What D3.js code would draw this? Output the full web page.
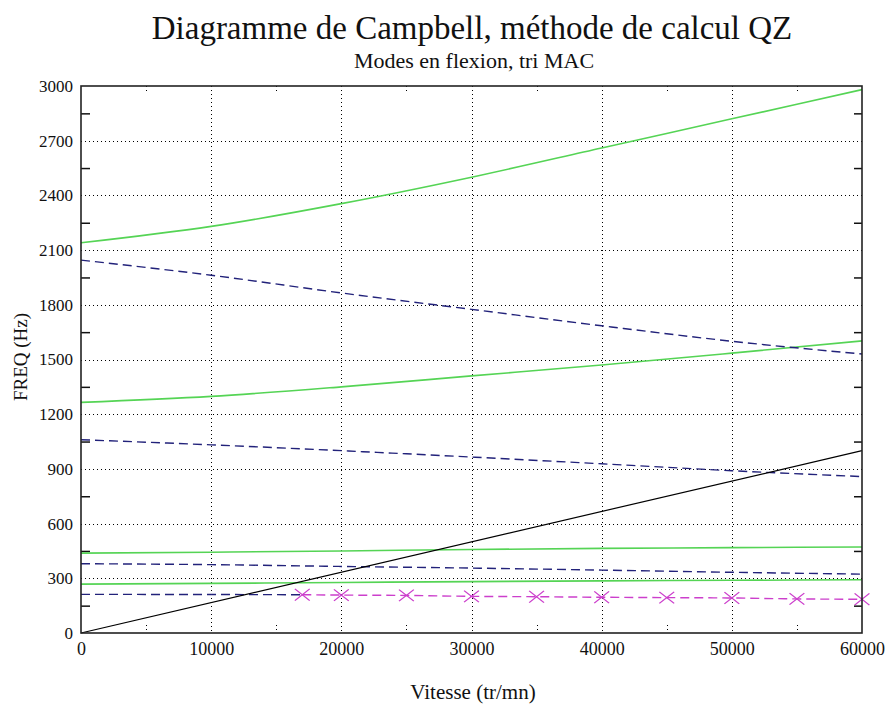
<!DOCTYPE html>
<html>
<head>
<meta charset="utf-8">
<script src="https://cdn.jsdelivr.net/npm/d3@7"></script>
<style>
  html, body { margin: 0; padding: 0; background: #fff; }
</style>
</head>
<body>
<svg id="chart" width="885" height="706"></svg>
<script>
// Rotor speed samples (tr/mn)
const speeds = [0, 10000, 20000, 30000, 40000, 50000, 60000];

// Bending modes (Hz) – forward whirl (solid green) and backward whirl (dashed blue)
const modeF4 = [2140, 2230, 2355, 2500, 2660, 2820, 2980];
const modeB4 = [2045, 1962, 1865, 1775, 1685, 1600, 1530];
const modeF3 = [1265, 1298, 1350, 1410, 1470, 1535, 1602];
const modeB3 = [1060, 1032, 1000, 965, 928, 890, 858];
const modeF2 = [438, 443, 450, 458, 464, 468, 472];
const modeB2 = [380, 375, 365, 356, 345, 333, 323];
const modeF1 = [268, 272, 277, 282, 286, 289, 292];

// Lowest backward mode: dashed blue up to 17000, then MAC-tracked points (magenta)
const lowSpeeds = [0, 10000, 17000];
const lowValues = [212, 211, 210];
const trackedSpeeds = [17000, 20000, 25000, 30000, 35000, 40000, 45000, 50000, 55000, 60000];
const trackedValues = [210, 208, 206, 201, 199, 196, 194, 192, 187, 185];

// Synchronous excitation line 1X (Hz = tr/mn / 60)
const syncSpeeds = [0, 60000];
const syncValues = [0, 1000];

const xTicks = [0, 10000, 20000, 30000, 40000, 50000, 60000];
const xMinor = [5000, 15000, 25000, 35000, 45000, 55000];
const yTicks = [0, 300, 600, 900, 1200, 1500, 1800, 2100, 2400, 2700, 3000];
const yMinor = [150, 450, 750, 1050, 1350, 1650, 1950, 2250, 2550, 2850];

const FONT = '"Liberation Serif", "Times New Roman", Tinos, serif';

const svg = d3.select("#chart");
const L = 81, R = 862, T = 86, B = 633;

const x = d3.scaleLinear().domain([0, 60000]).range([L, R]);
const y = d3.scaleLinear().domain([0, 3000]).range([B, T]);

function label(sel, size) {
  return sel.style("font-family", FONT).style("font-size", size + "px").attr("fill", "#111");
}

// Titles
label(svg.append("text").attr("x", 472).attr("y", 39).attr("text-anchor", "middle"), 33)
  .text("Diagramme de Campbell, méthode de calcul QZ");
label(svg.append("text").attr("x", 474).attr("y", 68).attr("text-anchor", "middle"), 22)
  .text("Modes en flexion, tri MAC");

// Dotted grid
const grid = svg.append("g").attr("stroke", "#000").attr("stroke-width", 1)
  .attr("stroke-dasharray", "1,3");
grid.selectAll("line.gx").data(xTicks.slice(1, -1)).join("line")
  .attr("x1", d => Math.round(x(d)) + 0.5).attr("x2", d => Math.round(x(d)) + 0.5)
  .attr("y1", T).attr("y2", B);
grid.selectAll("line.gy").data(yTicks.slice(1, -1)).join("line")
  .attr("x1", L).attr("x2", R)
  .attr("y1", d => Math.round(y(d)) + 0.5).attr("y2", d => Math.round(y(d)) + 0.5);
// short dotted minor marks on top and bottom edges
grid.selectAll("line.mb").data(xMinor).join("line")
  .attr("x1", d => Math.round(x(d)) + 0.5).attr("x2", d => Math.round(x(d)) + 0.5)
  .attr("y1", B - 8).attr("y2", B);
grid.selectAll("line.mt").data(xMinor).join("line")
  .attr("class", "mt")
  .attr("x1", d => Math.round(x(d)) + 0.5).attr("x2", d => Math.round(x(d)) + 0.5)
  .attr("y1", T).attr("y2", T + 6);

// Axes
const xAxis = d3.axisBottom(x).tickValues(xTicks).tickSize(0).tickPadding(9)
  .tickFormat(d3.format("d"));
const gx = svg.append("g").attr("transform", `translate(0,${B})`).call(xAxis);
gx.select(".domain").remove();
label(gx.selectAll("text"), 18);

const yAxis = d3.axisLeft(y).tickValues(yTicks).tickSize(0).tickPadding(8)
  .tickFormat(d3.format("d"));
const gy = svg.append("g").attr("transform", `translate(${L},0)`).call(yAxis);
gy.select(".domain").remove();
label(gy.selectAll("text"), 17);

// Minor ticks on left and right, pointing inward
const gyMinL = svg.append("g").attr("transform", `translate(${L},0)`)
  .call(d3.axisRight(y).tickValues(yMinor).tickSize(9).tickFormat(""));
gyMinL.select(".domain").remove();
const gyMinR = svg.append("g").attr("transform", `translate(${R},0)`)
  .call(d3.axisLeft(y).tickValues(yMinor).tickSize(8).tickFormat(""));
gyMinR.select(".domain").remove();
svg.selectAll(".tick line").attr("stroke", "#111").attr("stroke-width", 1.5);

// Series
const line = d3.line().x(d => x(d[0])).y(d => y(d[1])).curve(d3.curveMonotoneX);
const plot = svg.append("g");

const green = "#55d455";
const blue = "#22227a";
const solidModes = [modeF4, modeF3, modeF2, modeF1];
const dashedModes = [modeB4, modeB3, modeB2];

solidModes.forEach(vals => {
  plot.append("path").datum(d3.zip(speeds, vals)).attr("d", line)
    .attr("fill", "none").attr("stroke", green).attr("stroke-width", 1.6);
});
dashedModes.forEach(vals => {
  plot.append("path").datum(d3.zip(speeds, vals)).attr("d", line)
    .attr("fill", "none").attr("stroke", blue).attr("stroke-width", 1.4)
    .attr("stroke-dasharray", "9,5");
});
plot.append("path").datum(d3.zip(lowSpeeds, lowValues)).attr("d", line)
  .attr("fill", "none").attr("stroke", blue).attr("stroke-width", 1.4)
  .attr("stroke-dasharray", "9,5");

const magenta = "#cc3fcc";
plot.append("path").datum(d3.zip(trackedSpeeds, trackedValues)).attr("d", line)
  .attr("fill", "none").attr("stroke", magenta).attr("stroke-width", 1.4)
  .attr("stroke-dasharray", "9,5");
const cross = d3.symbol().type(d3.symbolX).size(110);
plot.selectAll("path.mk").data(d3.zip(trackedSpeeds, trackedValues)).join("path")
  .attr("transform", d => `translate(${x(d[0])},${y(d[1])}) scale(1.15,0.9)`)
  .attr("d", cross).attr("fill", "none").attr("stroke", magenta).attr("stroke-width", 1.2);

plot.append("path").datum(d3.zip(syncSpeeds, syncValues))
  .attr("d", d3.line().x(d => x(d[0])).y(d => y(d[1])))
  .attr("fill", "none").attr("stroke", "#000").attr("stroke-width", 1.2);

// Frame
svg.append("rect").attr("x", L).attr("y", T).attr("width", R - L).attr("height", B - T)
  .attr("fill", "none").attr("stroke", "#222").attr("stroke-width", 1.6);

// Axis titles
label(svg.append("text").attr("x", 473).attr("y", 699).attr("text-anchor", "middle"), 21)
  .text("Vitesse (tr/mn)");
label(svg.append("text").attr("transform", "translate(27,357) rotate(-90)")
  .attr("text-anchor", "middle"), 19).text("FREQ (Hz)");
</script>
</body>
</html>
